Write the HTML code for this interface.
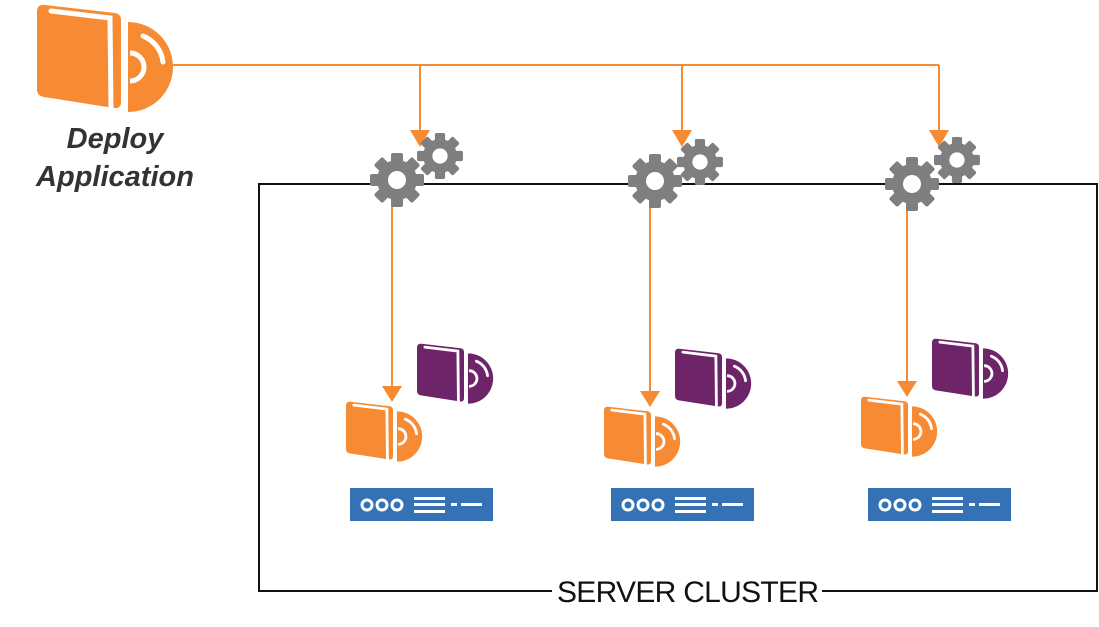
<!DOCTYPE html>
<html><head><meta charset="utf-8"><style>
html,body{margin:0;padding:0;background:#fff;}
svg{display:block;}
</style></head><body>
<svg width="1099" height="627" viewBox="0 0 1099 627" xmlns="http://www.w3.org/2000/svg">
<defs>
  <g id="book">
    <path d="M0,12 Q0,4 8,5 L78,13 Q84,14 84,20 L84,102 Q84,109 77,108 L7,97 Q0,96 0,89 Z"/>
    <path d="M14,11 L73,18 L74,110" fill="none" stroke="#fff" stroke-width="5" stroke-linecap="round"/>
    <rect x="84" y="18" width="7" height="92" fill="#fff"/>
    <path d="M91,22 A45,45 0 0 1 91,112 Z"/>
    <path d="M93,53 A14,14 0 0 1 93,81" fill="none" stroke="#fff" stroke-width="5"/>
    <path d="M106,36 A32,32 0 0 1 126,62" fill="none" stroke="#fff" stroke-width="5" stroke-linecap="round"/>
  </g>
  <g id="gear">
    <circle r="20"/>
    <g>
      <rect x="-6" y="-27" width="12" height="12" rx="2"/>
      <rect x="-6" y="-27" width="12" height="12" rx="2" transform="rotate(45)"/>
      <rect x="-6" y="-27" width="12" height="12" rx="2" transform="rotate(90)"/>
      <rect x="-6" y="-27" width="12" height="12" rx="2" transform="rotate(135)"/>
      <rect x="-6" y="-27" width="12" height="12" rx="2" transform="rotate(180)"/>
      <rect x="-6" y="-27" width="12" height="12" rx="2" transform="rotate(225)"/>
      <rect x="-6" y="-27" width="12" height="12" rx="2" transform="rotate(270)"/>
      <rect x="-6" y="-27" width="12" height="12" rx="2" transform="rotate(315)"/>
    </g>
    <circle r="9" fill="#fff"/>
  </g>
  <g id="server">
    <rect x="0" y="0" width="143" height="33" fill="#3471b5"/>
    <circle cx="17" cy="17" r="5" fill="none" stroke="#fff" stroke-width="3"/>
    <circle cx="32" cy="17" r="5" fill="none" stroke="#fff" stroke-width="3"/>
    <circle cx="47" cy="17" r="5" fill="none" stroke="#fff" stroke-width="3"/>
    <rect x="64" y="9" width="31" height="3" fill="#fff"/>
    <rect x="64" y="15" width="31" height="3" fill="#fff"/>
    <rect x="64" y="22" width="31" height="3" fill="#fff"/>
    <rect x="101" y="15" width="6" height="3" fill="#fff"/>
    <rect x="111" y="15" width="21" height="3" fill="#fff"/>
  </g>
</defs>

<!-- cluster box -->
<rect x="259" y="184" width="838" height="407" fill="none" stroke="#111" stroke-width="2"/>
<rect x="552" y="580" width="270" height="24" fill="#fff"/>
<text x="557" y="602" font-family="Liberation Sans, sans-serif" font-size="30" fill="#111" textLength="262">SERVER CLUSTER</text>

<!-- orange lines -->
<g stroke="#f68b33" stroke-width="2" fill="none">
  <path d="M170,65 H939"/>
  <path d="M420,65 V132"/>
  <path d="M682,65 V132"/>
  <path d="M939,65 V132"/>
  <path d="M392,205 V388"/>
  <path d="M650,205 V393"/>
  <path d="M907,208 V383"/>
</g>
<g fill="#f68b33">
  <path d="M410,130 L430,130 L420,147 Z"/>
  <path d="M672,130 L692,130 L682,147 Z"/>
  <path d="M929,130 L949,130 L939,147 Z"/>
  <path d="M382,386 L402,386 L392,402 Z"/>
  <path d="M640,391 L660,391 L650,407 Z"/>
  <path d="M897,381 L917,381 L907,397 Z"/>
</g>

<!-- gears -->
<g fill="#7f7f82">
  <use href="#gear" transform="translate(440,156) scale(0.85)"/>
  <use href="#gear" transform="translate(397,180)"/>
  <use href="#gear" transform="translate(700,162) scale(0.85)"/>
  <use href="#gear" transform="translate(655,181)"/>
  <use href="#gear" transform="translate(957,160) scale(0.85)"/>
  <use href="#gear" transform="translate(912,184)"/>
</g>

<!-- main book -->
<use href="#book" fill="#f68b33" transform="translate(37,0)"/>
<text x="115" y="148" text-anchor="middle" font-family="Liberation Sans, sans-serif" font-style="italic" font-weight="bold" font-size="29" fill="#333">Deploy</text>
<text x="115" y="186" text-anchor="middle" font-family="Liberation Sans, sans-serif" font-style="italic" font-weight="bold" font-size="29" fill="#333">Application</text>

<!-- small books -->
<use href="#book" fill="#6d2468" transform="translate(417,341) scale(0.56)"/>
<use href="#book" fill="#f68b33" transform="translate(346,399) scale(0.56)"/>
<use href="#book" fill="#6d2468" transform="translate(675,346) scale(0.56)"/>
<use href="#book" fill="#f68b33" transform="translate(604,404) scale(0.56)"/>
<use href="#book" fill="#6d2468" transform="translate(932,336) scale(0.56)"/>
<use href="#book" fill="#f68b33" transform="translate(861,394) scale(0.56)"/>

<!-- servers -->
<use href="#server" transform="translate(350,488)"/>
<use href="#server" transform="translate(611,488)"/>
<use href="#server" transform="translate(868,488)"/>
</svg>
</body></html>
